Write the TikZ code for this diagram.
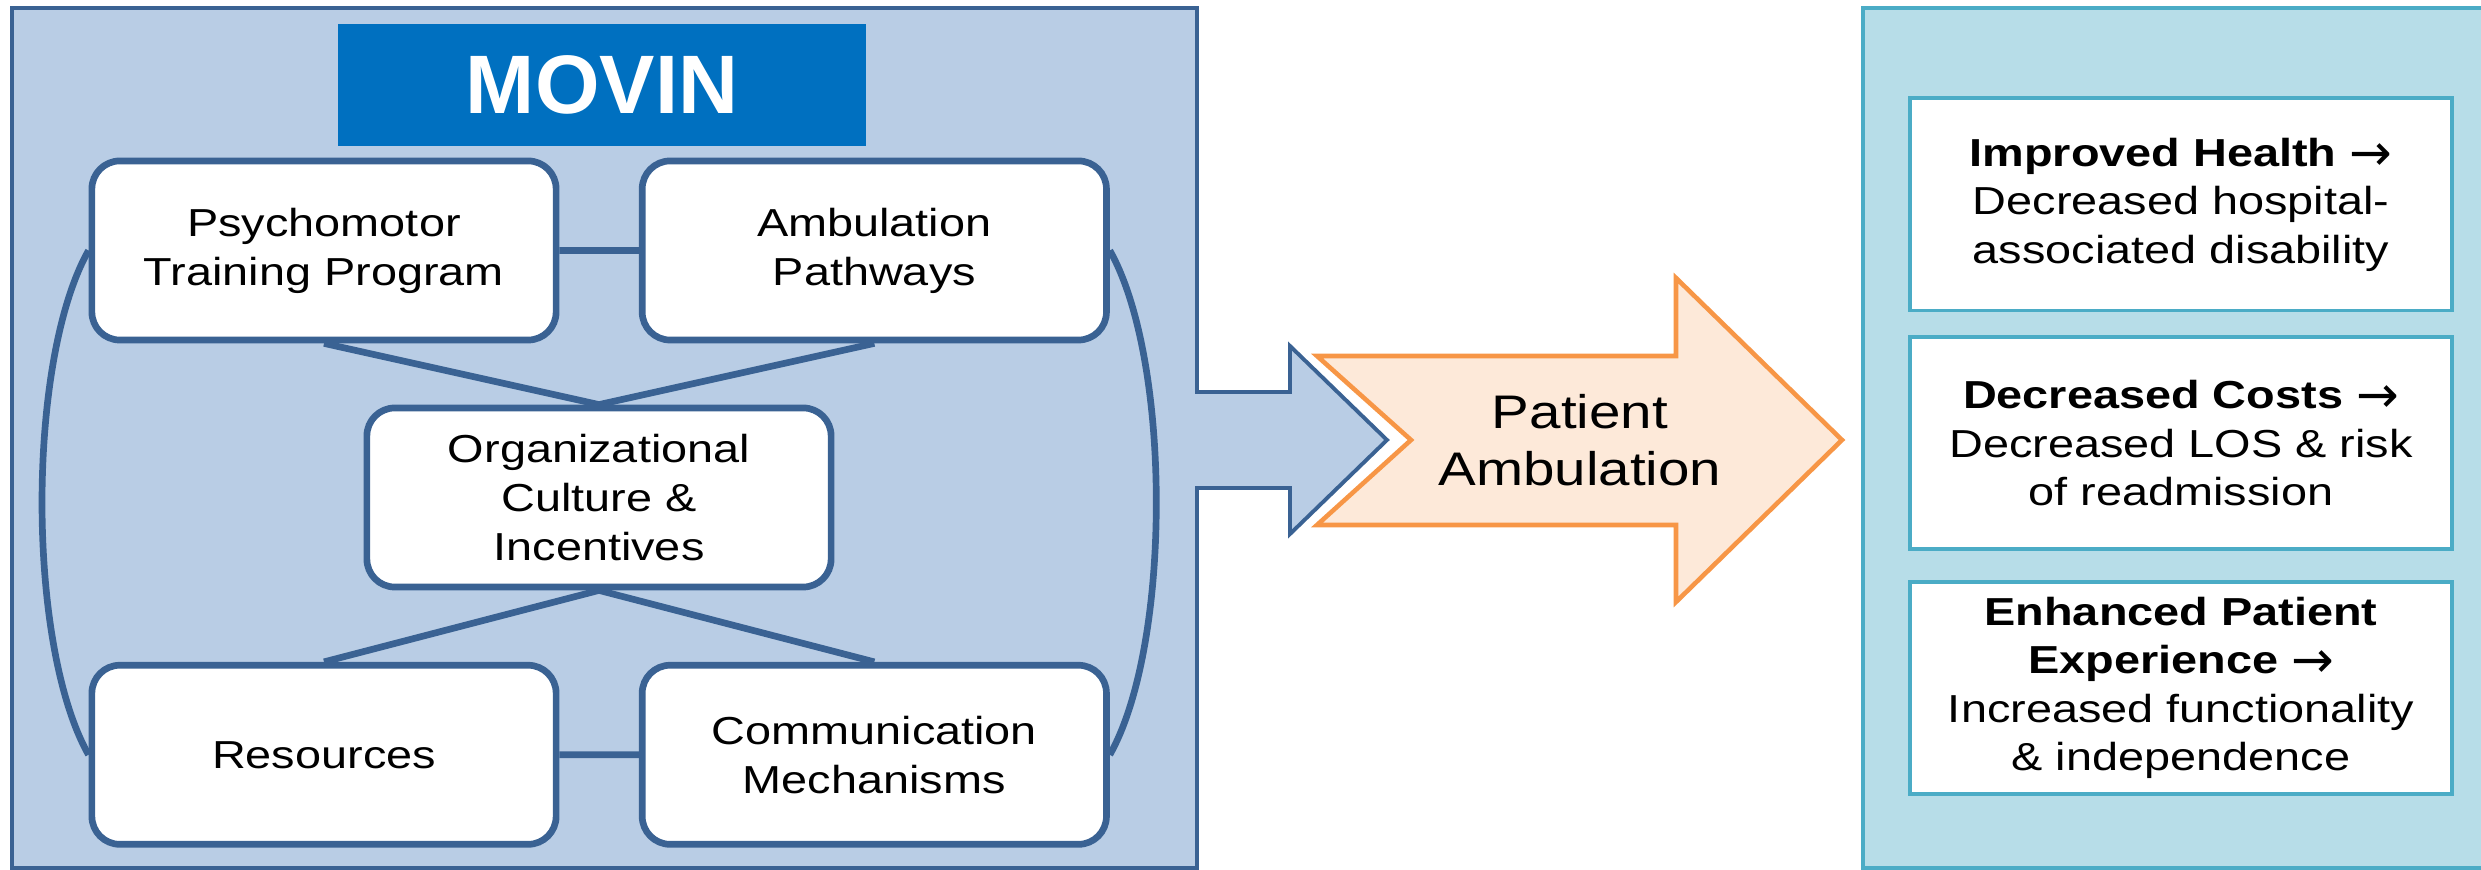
\documentclass[tikz,border=0pt]{standalone}
\usepackage{fontspec}
\setmainfont{Liberation Sans}[FakeStretch=1.2]
\newfontfamily\titlefont{Liberation Sans}
\newfontfamily\arrowfont{DejaVu Sans}
\usepackage{tikz}
\usetikzlibrary{positioning}

\definecolor{panelblue}{HTML}{B9CDE5}
\definecolor{lineblue}{HTML}{3A6293}
\definecolor{movinblue}{HTML}{0070C0}
\definecolor{peach}{HTML}{FDE9D9}
\definecolor{orangeline}{HTML}{F79646}
\definecolor{panelcyan}{HTML}{B7DDE8}
\definecolor{linecyan}{HTML}{4BACC6}

\newcommand{\leadsarrow}{\raisebox{-1.2pt}{\arrowfont\mdseries\fontsize{14.5}{14.5}\selectfont →}}

\begin{document}
\begin{tikzpicture}[x=0.01cm, y=0.01cm]
\tikzset{
factor/.style={draw=lineblue, line width=1.9pt, fill=white, rounded corners=0.28cm, minimum width=4.64cm, minimum height=1.79cm, align=center, font=\fontsize{11.1}{13.9}\selectfont}, % the five MOVIN parts
outcome/.style={draw=linecyan, line width=1.1pt, fill=white, minimum width=5.42cm, minimum height=2.12cm, align=center, font=\fontsize{11.1}{13.8}\selectfont}, % boxes in the right panel
link/.style={draw=lineblue, line width=1.9pt}, % lines between the parts
}
\useasboundingbox (0,0) rectangle (2481,870);

% left panel, its arrow included
\draw[lineblue, line width=1.1pt, fill=panelblue] (12,862) -- (1197,862) -- (1197,478) -- (1290,478) -- (1290,524) -- (1387,430) -- (1290,336) -- (1290,382) -- (1197,382) -- (1197,2) -- (12,2) -- cycle;
% right panel
\draw[linecyan, line width=1.1pt, fill=panelcyan] (1863,2) rectangle (2520,862);

	\node[fill=movinblue, text=white, minimum width=5.27cm, minimum height=1.22cm, font=\titlefont\fontsize{23.6}{28}\selectfont\bfseries] (movin) at (602,785) {MOVIN};

	\node[factor] (psy) at (324,619.5) {Psychomotor\\Training Program};
	\node[factor, right of=psy, node distance=5.5cm] (amb) {Ambulation\\Pathways};
	\node[factor] (org) at (599,372.5) {Organizational\\Culture \&\\Incentives};
	\node[factor, below of=psy, node distance=5.04cm] (res) {Resources};
	\node[factor, right of=res, node distance=5.5cm] (com) {Communication\\Mechanisms};

	\draw[link] (psy) -- (amb)
	(res) -- (com)
	(psy.south) -- (org.north)
	(amb.south) -- (org.north)
	(org.south) -- (res.north)
	(org.south) -- (com.north);
	\draw[link] (psy.west) .. controls +(-62,-110) and +(-62,110) .. (res.west);
	\draw[link] (amb.east) .. controls +(62,-110) and +(62,110) .. (com.east);

% the middle arrow
\draw[orangeline, line width=1.3pt, fill=peach] (1317,514) -- (1676,514) -- (1676,592) -- (1842,430) -- (1676,268) -- (1676,345) -- (1317,345) -- (1411,430) -- cycle;
	\node[align=center, font=\fontsize{13.4}{16.2}\selectfont] (walk) at (1580,430) {Patient\\Ambulation};

	\node[outcome] (health) at (2181,665.5) {\textbf{Improved Health \leadsarrow}\\Decreased hospital-\\associated disability};
	\node[outcome, below of=health, node distance=2.385cm] (costs) {\textbf{Decreased Costs \leadsarrow}\\Decreased LOS \& risk\\of readmission};
	\node[outcome, below of=costs, node distance=2.445cm] (exper) {\textbf{Enhanced Patient}\\\textbf{Experience \leadsarrow}\\Increased functionality\\\& independence};
\end{tikzpicture}
\end{document}
